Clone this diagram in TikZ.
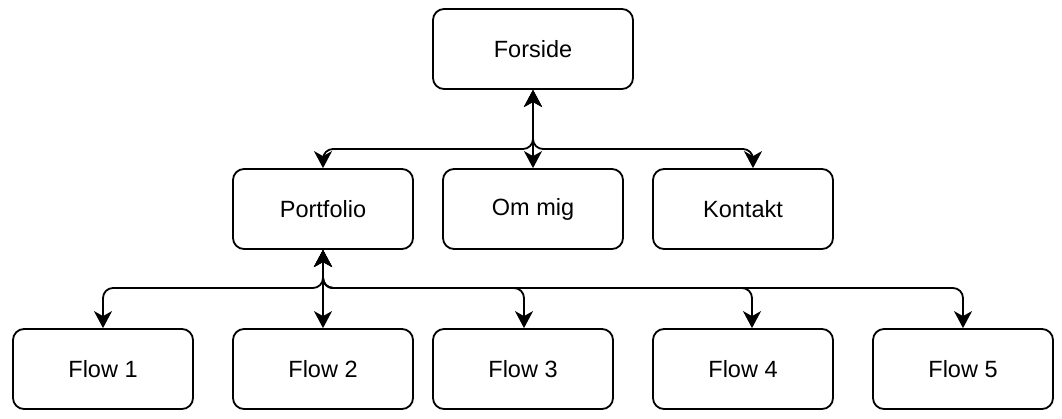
\documentclass[tikz,border=0pt]{standalone}
\usepackage{fontspec}
\setmainfont{Liberation Sans}
\usetikzlibrary{arrows.meta}
\begin{document}
\begin{tikzpicture}[x=1pt,y=-1pt,
  box/.style={draw=black,line width=1.8pt,rounded corners=11pt,fill=white,
    minimum width=180pt,minimum height=80pt,inner sep=0pt,
    font=\fontsize{23.5}{28}\selectfont},
  edge/.style={line width=1.8pt,rounded corners=10pt,
    {Stealth[length=17pt,width=18pt,inset=5pt]}-{Stealth[length=17pt,width=18pt,inset=5pt]}}]
\useasboundingbox (0,0) rectangle (1062,418);
\node[box,minimum width=200pt] (forside) at (533,49) {Forside};
\node[box] (portfolio) at (323,209) {Portfolio};
\node[box] (ommig) at (533,209) {Om mig};
\node[box] (kontakt) at (743,209) {Kontakt};
\node[box] (flow1) at (103,369) {Flow 1};
\node[box] (flow2) at (323,369) {Flow 2};
\node[box] (flow3) at (523,369) {Flow 3};
\node[box] (flow4) at (743,369) {Flow 4};
\node[box] (flow5) at (963,369) {Flow 5};
\coordinate (j1) at (533,149);
\coordinate (j2) at (323,288);
\draw[edge] (forside.south) -- (j1) -| (portfolio.north);
\draw[edge] (forside.south) -- (ommig.north);
\draw[edge] (forside.south) -- (j1) -| ([xshift=10pt]kontakt.north);
\draw[edge] (portfolio.south) -- (j2) -| (flow1.north);
\draw[edge] (portfolio.south) -- (flow2.north);
\draw[edge] (portfolio.south) -- (j2) -| ([xshift=1pt]flow3.north);
\draw[edge] (portfolio.south) -- (j2) -| ([xshift=9pt]flow4.north);
\draw[edge] (portfolio.south) -- (j2) -| (flow5.north);
\end{tikzpicture}
\end{document}
